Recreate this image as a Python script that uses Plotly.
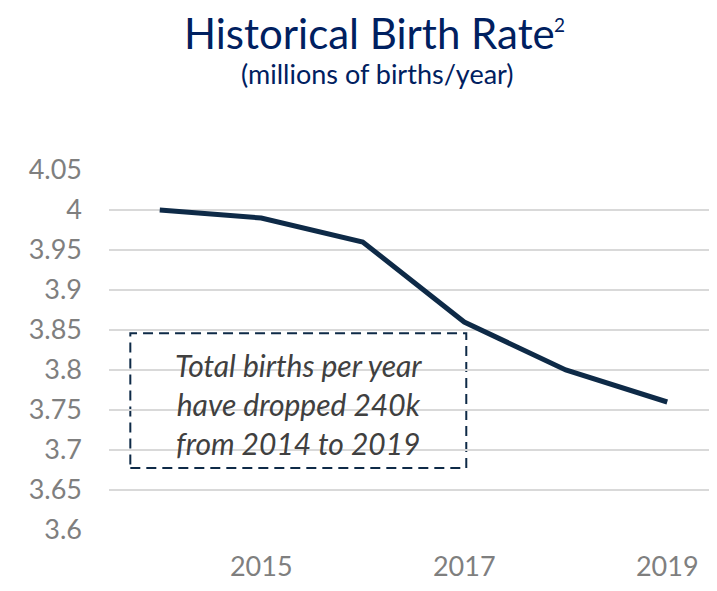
import plotly.graph_objects as go

anos = [2014, 2015, 2016, 2017, 2018, 2019]
nascimentos = [4.00, 3.99, 3.96, 3.86, 3.80, 3.76]

azul = '#002060'
linha = '#0e2a47'
cinza = '#7f7f7f'

# area do grafico em px (a pagina tem 8px de margem no body)
L, T, B, W, H = 101, 162, 61, 709, 583
pw, ph = W - L, H - T - B

def px_x(x):
    return (x - L) / pw

def px_y(y):
    return (H - B - y) / ph

fig = go.Figure()
fig.add_trace(go.Scatter(x=anos, y=nascimentos, mode='lines',
                         line=dict(color=linha, width=5), showlegend=False))

# caixa tracejada com o comentario
fig.add_shape(type='rect', x0=2013.71, x1=2017.02, y0=3.6775, y1=3.846,
              xref='x', yref='y', line=dict(color=linha, width=2, dash='10px,6px'),
              fillcolor='white', layer='below')
fig.add_annotation(x=2015.37, y=3.7575, xref='x', yref='y', showarrow=False,
                   text='<i>Total births per year<br>have dropped 240k<br>from 2014 to 2019</i>',
                   font=dict(family='Lato', size=30, color='#404040'), align='center')

# titulo (o "2" separado para nao sair do topo)
fig.add_annotation(x=px_x(361), y=px_y(25), xref='paper', yref='paper', showarrow=False,
                   text='Historical Birth Rate', yanchor='middle',
                   font=dict(family='Lato', size=42, color=azul))
fig.add_annotation(x=px_x(559), y=px_y(16), xref='paper', yref='paper', showarrow=False,
                   text='2', yanchor='middle',
                   font=dict(family='Lato', size=19, color=azul))
fig.add_annotation(x=px_x(369), y=px_y(65), xref='paper', yref='paper', showarrow=False,
                   text='(millions of births/year)', yanchor='middle',
                   font=dict(family='Lato', size=27, color=azul))

fig.update_layout(
    width=W, height=H,
    margin=dict(l=L, r=0, t=T, b=B),
    plot_bgcolor='white', paper_bgcolor='white',
    font=dict(family='Lato', color=cinza, size=27),
)

fig.update_xaxes(range=[2013.5, 2013.5 + pw / 101.5], tick0=2015, dtick=2, showgrid=False,
                 showline=False, zeroline=False, ticks='', ticklabelstandoff=18)
fig.update_yaxes(range=[3.6, 4.05], dtick=0.05, showgrid=True, gridcolor='#d9d9d9',
                 gridwidth=1.5, zeroline=False, showline=False, ticks='',
                 ticklabelstandoff=26, tickformat='~g')

fig.write_html('out.html')
